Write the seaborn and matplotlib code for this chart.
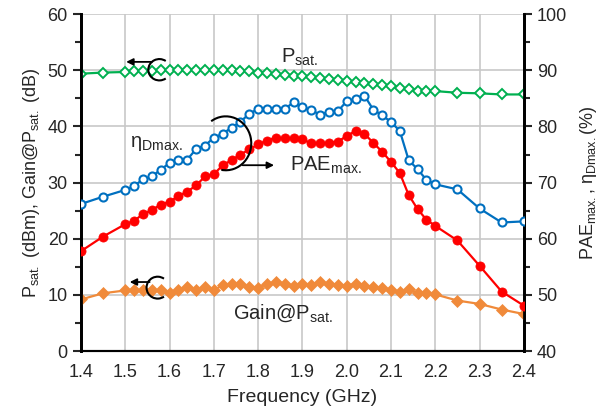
import matplotlib
matplotlib.use("Agg")
import matplotlib.pyplot as plt
from matplotlib.patches import Arc
from matplotlib.ticker import MultipleLocator
import seaborn as sns
import pandas as pd
import numpy as np

freq = [1.40, 1.45, 1.50, 1.52, 1.54, 1.56, 1.58, 1.60, 1.62, 1.64, 1.66, 1.68,
        1.70, 1.72, 1.74, 1.76, 1.78, 1.80, 1.82, 1.84, 1.86, 1.88, 1.90, 1.92,
        1.94, 1.96, 1.98, 2.00, 2.02, 2.04, 2.06, 2.08, 2.10, 2.12, 2.14, 2.16,
        2.18, 2.20, 2.25, 2.30, 2.35, 2.40]
psat = [49.4, 49.6, 49.7, 49.8, 49.9, 49.9, 50.0, 50.0, 50.0, 50.1, 50.0, 50.1,
        50.0, 50.0, 50.0, 49.9, 49.8, 49.6, 49.5, 49.3, 49.2, 49.0, 48.9, 48.8,
        48.6, 48.4, 48.3, 48.1, 47.9, 47.8, 47.6, 47.3, 47.2, 46.8, 46.6, 46.4,
        46.3, 46.3, 46.0, 45.9, 45.7, 45.7]
gain = [9.2, 10.3, 10.8, 10.8, 10.9, 10.9, 10.8, 10.3, 10.8, 11.5, 10.8, 11.4,
        10.9, 11.7, 11.9, 12.0, 11.5, 11.3, 11.9, 12.3, 12.0, 11.6, 12.0, 11.8,
        12.3, 12.0, 11.8, 11.6, 12.0, 11.6, 11.4, 11.3, 10.9, 10.5, 11.0, 10.3,
        10.3, 10.1, 9.0, 8.4, 7.4, 6.6]
eta_d = [66.2, 67.5, 68.7, 69.4, 70.6, 71.1, 72.3, 73.5, 74.0, 74.1, 76.0, 76.6,
         78.0, 78.7, 79.8, 80.8, 82.3, 83.1, 83.1, 83.1, 83.1, 84.3, 83.5, 82.9,
         82.1, 82.6, 82.7, 84.5, 84.9, 85.5, 83.0, 82.0, 80.8, 79.2, 74.0, 72.4,
         70.5, 69.7, 68.8, 65.4, 62.9, 63.1]
pae = [57.8, 60.4, 62.6, 63.2, 64.4, 65.1, 66.1, 66.6, 67.6, 68.4, 69.5, 71.1,
       71.5, 73.1, 74.0, 75.0, 75.9, 76.8, 77.5, 78.0, 77.9, 77.9, 77.7, 77.0,
       77.0, 77.1, 77.3, 78.3, 79.2, 78.7, 77.1, 75.5, 73.7, 71.7, 67.8, 65.3,
       63.4, 62.3, 59.7, 55.2, 50.6, 48.1]
x_ticks = [1.4, 1.5, 1.6, 1.7, 1.8, 1.9, 2.0, 2.1, 2.2, 2.3, 2.4]

df = pd.DataFrame({"freq": freq, "psat": psat, "gain": gain, "eta": eta_d, "pae": pae})

sns.set_style("white")
plt.rcParams["font.family"] = ["Liberation Sans", "DejaVu Sans"]
plt.rcParams["mathtext.fontset"] = "custom"
plt.rcParams["mathtext.rm"] = "Liberation Sans"
plt.rcParams["mathtext.it"] = "Liberation Sans:italic"
plt.rcParams["mathtext.bf"] = "Liberation Sans:bold"

fig = plt.figure(figsize=(6.0, 4.16), dpi=100)
ax = fig.add_axes([0.135, 0.156, 0.738, 0.81])
ax2 = ax.twinx()

GREEN = "#00B050"
ORANGE = "#F08A3A"
BLUE = "#0070C0"
RED = "#FF0000"

sns.lineplot(data=df, x="freq", y="psat", ax=ax, color=GREEN, lw=1.6, marker="D",
             markersize=5, markerfacecolor="white", markeredgecolor=GREEN,
             markeredgewidth=1.4, zorder=3)
sns.lineplot(data=df, x="freq", y="gain", ax=ax, color=ORANGE, lw=1.6, marker="D",
             markersize=5.8, markerfacecolor=ORANGE, markeredgecolor=ORANGE,
             markeredgewidth=0.5, zorder=3)
sns.lineplot(data=df, x="freq", y="eta", ax=ax2, color=BLUE, lw=1.6, marker="o",
             markersize=5.8, markerfacecolor="white", markeredgecolor=BLUE,
             markeredgewidth=1.5, zorder=3)
sns.lineplot(data=df, x="freq", y="pae", ax=ax2, color=RED, lw=1.6, marker="o",
             markersize=6.6, markerfacecolor=RED, markeredgecolor=RED,
             markeredgewidth=0.5, zorder=3)

ax.set_xlim(1.4, 2.4)
ax.set_ylim(0, 60)
ax2.set_ylim(40, 100)
ax.set_xticks(x_ticks)
ax.set_xticklabels([f"{t:.1f}" for t in x_ticks])
ax.yaxis.set_major_locator(MultipleLocator(10))
ax.yaxis.set_minor_locator(MultipleLocator(5))
ax2.yaxis.set_major_locator(MultipleLocator(10))
ax2.yaxis.set_minor_locator(MultipleLocator(5))

ax.grid(True, which="major", color="#c8c8c8", lw=1.2)
ax.set_axisbelow(True)

for a in (ax, ax2):
    a.spines["top"].set_visible(False)
    a.spines["left"].set_linewidth(2.0)
    a.spines["right"].set_linewidth(2.0)
    a.spines["bottom"].set_linewidth(1.5)
    for s in a.spines.values():
        s.set_color("black")

ax.tick_params(axis="x", length=0, labelsize=13, pad=9)
ax.tick_params(axis="y", which="major", direction="out", length=6, width=1.5, labelsize=13, left=True)
ax.tick_params(axis="y", which="minor", direction="out", length=4, width=1.5, left=True)
ax2.tick_params(axis="y", which="major", direction="out", length=6, width=1.5, labelsize=13, right=True)
ax2.tick_params(axis="y", which="minor", direction="out", length=4, width=1.5, right=True)

ax.set_xlabel("Frequency (GHz)", fontsize=14, labelpad=6)
ax.set_ylabel(r"P$_{\mathrm{sat.}}$ (dBm), Gain@P$_{\mathrm{sat.}}$ (dB)", fontsize=13, labelpad=4)
ax2.set_ylabel(r"PAE$_{\mathrm{max.}}$, η$_{\mathrm{Dmax.}}$(%)", fontsize=13, rotation=90, labelpad=8)

T = ax.transData


def data_arc(center, w, h, phi1, phi2):
    """Arc whose start/end are given as parametric angles of the ellipse."""
    def conv(phi):
        r = np.radians(phi)
        return np.degrees(np.arctan2(h * np.sin(r), w * np.cos(r))) % 360
    t1, t2 = conv(phi1), conv(phi2)
    if t2 <= t1:
        t2 += 360
    return Arc(center, w, h, theta1=t1, theta2=t2, color="black", lw=1.5,
               transform=T, zorder=5)


arrow = dict(arrowstyle="-|>", color="black", lw=1.3, mutation_scale=10, shrinkA=0, shrinkB=0)

# Psat annotation
ax2.add_patch(data_arc((1.577, 50.1), 0.05, 3.8, 55, 305))
ax2.annotate("", xy=(1.502, 51.5), xytext=(1.56, 51.5), xycoords=T, textcoords=T,
             arrowprops=arrow, zorder=5)
ax2.text(1.851, 51.4, r"P$_{\mathrm{sat.}}$", fontsize=14.5, transform=T, ha="left", va="baseline")

# Gain annotation
ax2.add_patch(data_arc((1.573, 11.3), 0.05, 3.9, 55, 305))
ax2.annotate("", xy=(1.51, 12.3), xytext=(1.555, 12.3), xycoords=T, textcoords=T,
             arrowprops=arrow, zorder=5)
ax2.text(1.743, 5.85, r"Gain@P$_{\mathrm{sat.}}$", fontsize=14.5, transform=T, ha="left", va="baseline")

# eta / PAE annotation
ax2.text(1.51, 36.3, r"η$_{\mathrm{Dmax.}}$", fontsize=14.5, transform=T, ha="left", va="baseline")
ax2.add_patch(data_arc((1.727, 37.0), 0.115, 9.6, -100, 125))
ax2.annotate("", xy=(1.836, 33.1), xytext=(1.765, 33.1), xycoords=T, textcoords=T,
             arrowprops=arrow, zorder=5)
ax2.text(1.872, 32.1, r"PAE$_{\mathrm{max.}}$", fontsize=14.5, transform=T, ha="left", va="baseline")

fig.savefig("out.png", dpi=100)
